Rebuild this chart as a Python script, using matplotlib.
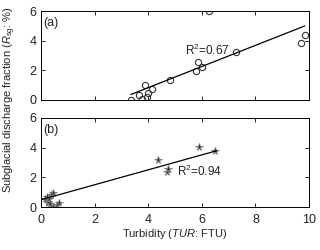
import numpy as np
import matplotlib
matplotlib.use('Agg')
import matplotlib.pyplot as plt

plt.rcParams['font.family'] = ['Liberation Sans', 'DejaVu Sans']
plt.rcParams['mathtext.fontset'] = 'custom'
plt.rcParams['mathtext.rm'] = 'Liberation Sans'
plt.rcParams['mathtext.it'] = 'Liberation Sans:italic'

# panel (a) data
tur_a = [3.36, 3.66, 3.78, 3.87, 3.94, 3.98, 4.15, 4.80, 5.78, 5.85, 6.00, 6.28, 7.29, 9.69, 9.85]
rsg_a = [0.00, 0.31, 0.04, 0.99, 0.20, 0.47, 0.72, 1.37, 1.96, 2.54, 2.20, 5.98, 3.21, 3.87, 4.38]
fit_a = (0.713, -2.02)   # slope, intercept
range_a = (3.36, 9.83)

# panel (b) data
tur_b = [0.14, 0.21, 0.25, 0.27, 0.31, 0.34, 0.36, 0.44, 0.46, 0.58, 0.66, 4.35, 4.69, 4.73, 5.91, 6.48]
rsg_b = [0.52, 0.65, 0.36, 0.25, 0.52, 0.18, 0.81, 0.97, 0.02, 0.14, 0.25, 3.20, 2.37, 2.57, 4.02, 3.79]
fit_b = (0.504, 0.49)
range_b = (0.06, 6.55)

fig = plt.figure(figsize=(3.2, 2.5), dpi=100)
ax1 = fig.add_axes([0.128, 0.6, 0.838, 0.356])
ax2 = fig.add_axes([0.128, 0.172, 0.838, 0.356])

ax1.plot(tur_a, rsg_a, 'o', mfc='none', mec='#333333', ms=4.5, mew=0.8)
xa = np.array(range_a)
ax1.plot(xa, fit_a[0] * xa + fit_a[1], 'k-', lw=0.9)
ax1.text(5.37, 3.33, r'R$^2$=0.67', fontsize=8.5, va='center', color='#222222')
ax1.text(0.08, 5.2, '(a)', fontsize=9, va='center', color='#222222')

ax2.plot(tur_b, rsg_b, '*', color='#222222', mec='#777777', ms=5.5, mew=0.6)
xb = np.array(range_b)
ax2.plot(xb, fit_b[0] * xb + fit_b[1], 'k-', lw=0.9)
ax2.text(5.06, 2.37, r'R$^2$=0.94', fontsize=8.5, va='center', color='#222222')
ax2.text(0.08, 5.2, '(b)', fontsize=9, va='center', color='#222222')

for ax in (ax1, ax2):
    ax.set_xlim(0, 10)
    ax.set_ylim(0, 6)
    ax.set_xticks([0, 2, 4, 6, 8, 10])
    ax.set_yticks([0, 2, 4, 6])
    ax.tick_params(direction='in', top=True, right=True, length=3, width=0.6,
                   labelsize=9, pad=3, labelcolor='#222222')
    ax.tick_params(axis='x', pad=5)
    for s in ax.spines.values():
        s.set_linewidth(0.7)
ax1.tick_params(labelbottom=False)

ax2.set_xlabel(r'Turbidity ($\it{TUR}$: FTU)', fontsize=8, labelpad=1, color='#222222')
fig.text(0.03, 0.6, r'Subglacial discharge fraction ($\it{R}_{\rm{sg}}$: %)',
         rotation=90, fontsize=8, ha='center', va='center', color='#222222')

fig.savefig('out.png', dpi=100)
